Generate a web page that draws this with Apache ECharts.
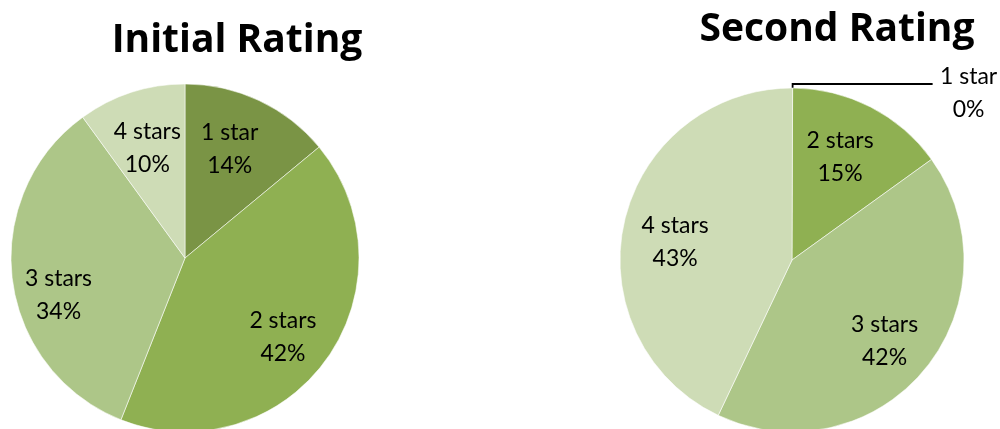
<!DOCTYPE html>
<html>
<head>
<meta charset="utf-8">
<script src="https://cdn.jsdelivr.net/npm/echarts@6/dist/echarts.min.js"></script>
<style>
  html, body { margin: 0; padding: 0; background: #fff; }
  #chart { width: 1000px; height: 429px; }
</style>
</head>
<body>
<div id="chart"></div>
<script>
// Star ratings, share of responses (%)
const categories = ['1 star', '2 stars', '3 stars', '4 stars'];
const initialRating = [14, 42, 34, 10];
const secondRating = [0, 15, 42, 43];
const titles = ['Initial Rating', 'Second Rating'];
const sliceColors = ['#7a9445', '#8fb052', '#adc688', '#cedcb6'];

// Small nudges for the in-slice labels (px), per pie and category
const labelNudgeInitial = { '1 star': [-10, 7], '2 stars': [-6, 4], '3 stars': [1, 21], '4 stars': [2, 12] };
const labelNudgeSecond = { '2 stars': [-10, 10], '3 stars': [-5, 0], '4 stars': [7, 10] };

const labelFont = { fontFamily: 'Lato', fontSize: 23, lineHeight: 33, color: '#000' };
const titleFont = { fontFamily: 'Open Sans', fontWeight: 'bold', fontSize: 39, color: '#000' };

function pieData(values) {
  return categories.map((name, i) => ({
    name: name,
    value: values[i],
    itemStyle: { color: sliceColors[i] }
  }));
}

// Zero-share slices get an outside label with a leader line
function labelData(values, nudge) {
  return categories.map((name, i) => {
    const item = { name: name, value: values[i] };
    if (values[i] === 0) {
      item.label = {
        position: 'outside',
        formatter: '{a|{b}}\n{a|{c}%}',
        padding: [18, 0, 0, 0],
        rich: { a: Object.assign({ width: 62, align: 'center' }, labelFont) }
      };
      item.labelLine = {
        show: true,
        length: 4,
        length2: 140,
        lineStyle: { color: '#000', width: 1.8 }
      };
    } else if (nudge[name]) {
      item.label = { offset: nudge[name] };
    }
    return item;
  });
}

function pieSeries(values, center, radius, startAngle, nudge) {
  return [
    {
      type: 'pie',
      center: center,
      radius: [0, radius],
      startAngle: startAngle,
      clockwise: true,
      silent: true,
      avoidLabelOverlap: false,
      label: { show: false },
      labelLine: { show: false },
      itemStyle: { borderColor: 'rgba(255,255,255,0.55)', borderWidth: 1 },
      data: pieData(values)
    },
    {
      // transparent ring that carries the slice labels at ~72% of the radius
      type: 'pie',
      center: center,
      radius: [Math.round(radius * 0.44), radius],
      startAngle: startAngle,
      clockwise: true,
      silent: true,
      avoidLabelOverlap: false,
      itemStyle: { color: 'rgba(0,0,0,0)', borderWidth: 0 },
      label: Object.assign({
        show: true,
        position: 'inside',
        formatter: '{b}\n{c}%'
      }, labelFont),
      labelLine: { show: false },
      data: labelData(values, nudge)
    }
  ];
}

const chart = echarts.init(document.getElementById('chart'), null, { renderer: 'canvas' });
chart.setOption({
  animation: false,
  backgroundColor: '#fff',
  title: [
    { text: titles[0], left: 232, top: 16, textAlign: 'center', textStyle: titleFont },
    { text: titles[1], left: 832, top: 5, textAlign: 'center', textStyle: titleFont }
  ],
  series: [].concat(
    pieSeries(initialRating, [185, 258], 174, 90, labelNudgeInitial),
    pieSeries(secondRating, [792, 260], 172, 89.8, labelNudgeSecond)
  )
});
</script>
</body>
</html>
